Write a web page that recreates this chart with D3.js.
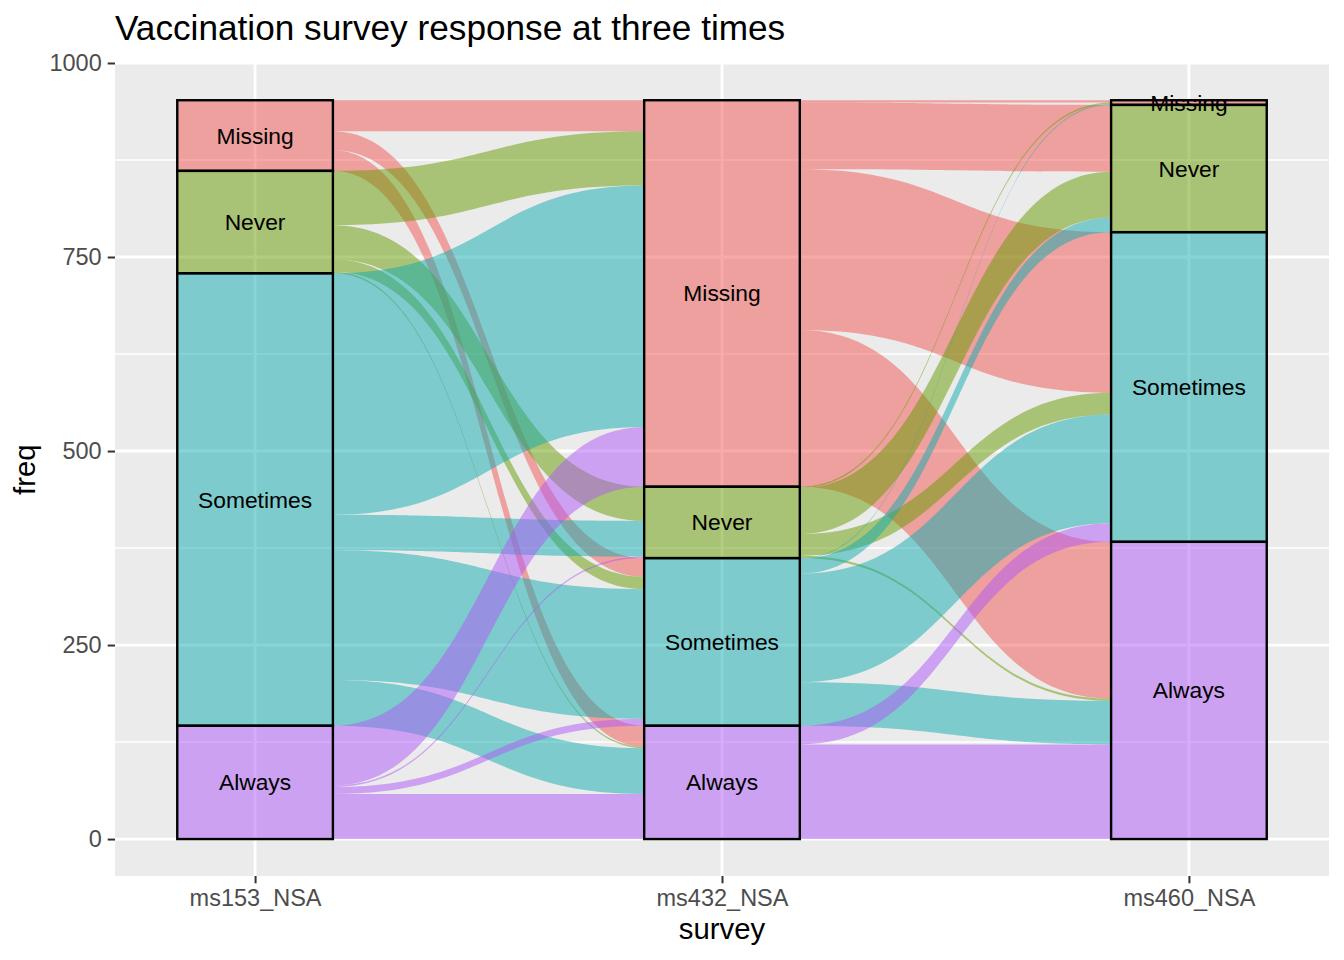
<!DOCTYPE html>
<html>
<head>
<meta charset="utf-8">
<script src="https://cdn.jsdelivr.net/npm/d3@7"></script>
<style>
  body { margin: 0; background: #fff; }
  text { font-family: "Liberation Sans", Arial, Helvetica, sans-serif; }
</style>
</head>
<body>
<svg id="chart" width="1344" height="960"></svg>
<script>
var surveys = ["ms153_NSA", "ms432_NSA", "ms460_NSA"];
var responses = ["Missing", "Never", "Sometimes", "Always"];
// base fills, drawn at half opacity over the grey panel
var colors = ["#EF554F", "#659B00", "#11ABAF", "#AF57F7"];

// respondents between two surveys: row = answer at the earlier survey, column = answer at the later one
var flows153to432 = [
  [40, 0, 24, 27],
  [70, 44, 16, 2],
  [311, 46, 167, 59],
  [77, 2, 9, 58]
];
var flows432to460 = [
  [3, 86, 207, 202],
  [2, 59, 28, 3],
  [1, 19, 140, 56],
  [0, 0, 24, 122]
];
var yTicks = [0, 250, 500, 750, 1000];
var yMinor = [125, 375, 625, 875];

var intervals = [flows153to432, flows432to460];

// stratum sizes at each survey
var sizes = [
  flows153to432.map(function(r) { return d3.sum(r); }),
  responses.map(function(_, j) { return d3.sum(flows153to432, function(r) { return r[j]; }); }),
  responses.map(function(_, j) { return d3.sum(flows432to460, function(r) { return r[j]; }); })
];
var total = d3.sum(sizes[0]);

var panel = {left: 115, right: 1329, top: 63.3, bottom: 876};

var svg = d3.select("#chart");

var x = d3.scalePoint()
  .domain(surveys)
  .range([panel.left, panel.right])
  .padding(0.3);
var y = d3.scaleLinear()
  .domain([-0.05 * total, 1.05 * total])
  .range([panel.bottom, panel.top]);
var boxW = x.step() / 3;

// stratum bottom (in freq) for response i at survey a, Always at the bottom
function stratumBottom(a, i) {
  var b = 0;
  for (var k = i + 1; k < responses.length; k++) b += sizes[a][k];
  return b;
}

// panel + grid
svg.append("rect")
  .attr("x", panel.left).attr("y", panel.top)
  .attr("width", panel.right - panel.left)
  .attr("height", panel.bottom - panel.top)
  .attr("fill", "#EBEBEB");

svg.selectAll(".minor").data(yMinor).enter().append("line")
  .attr("x1", panel.left).attr("x2", panel.right)
  .attr("y1", function(d) { return y(d); }).attr("y2", function(d) { return y(d); })
  .attr("stroke", "#fff").attr("stroke-width", 1.4);

svg.selectAll(".major").data(yTicks).enter().append("line")
  .attr("x1", panel.left).attr("x2", panel.right)
  .attr("y1", function(d) { return y(d); }).attr("y2", function(d) { return y(d); })
  .attr("stroke", "#fff").attr("stroke-width", 2.8);

svg.selectAll(".vgrid").data(surveys).enter().append("line")
  .attr("x1", function(d) { return x(d); }).attr("x2", function(d) { return x(d); })
  .attr("y1", panel.top).attr("y2", panel.bottom)
  .attr("stroke", "#fff").attr("stroke-width", 2.8);

// flows
var flowData = [];
intervals.forEach(function(m, a) {
  // running offsets from the stratum tops
  var leftOff = responses.map(function() { return 0; });
  var rightOff = responses.map(function() { return 0; });
  var segs = {};
  for (var i = 0; i < 4; i++) {
    for (var j = 0; j < 4; j++) {
      var v = m[i][j];
      var lt = stratumBottom(a, i) + sizes[a][i] - leftOff[i];
      leftOff[i] += v;
      segs[i + "-" + j] = {lt: lt, lb: lt - v};
    }
  }
  for (var j2 = 0; j2 < 4; j2++) {
    for (var i2 = 0; i2 < 4; i2++) {
      var v2 = m[i2][j2];
      var rt = stratumBottom(a + 1, j2) + sizes[a + 1][j2] - rightOff[j2];
      rightOff[j2] += v2;
      var s = segs[i2 + "-" + j2];
      s.rt = rt; s.rb = rt - v2;
    }
  }
  for (var i3 = 0; i3 < 4; i3++) {
    for (var j3 = 0; j3 < 4; j3++) {
      if (m[i3][j3] <= 0) continue;
      var sg = segs[i3 + "-" + j3];
      flowData.push({a: a, from: i3, to: j3, lt: sg.lt, lb: sg.lb, rt: sg.rt, rb: sg.rb});
    }
  }
});

function flowPath(d) {
  var x0 = x(surveys[d.a]) + boxW / 2,
      x1 = x(surveys[d.a + 1]) - boxW / 2,
      c0 = x0 + (x1 - x0) * 0.5,
      c1 = x1 - (x1 - x0) * 0.5;
  var p = d3.path();
  p.moveTo(x0, y(d.lt));
  p.bezierCurveTo(c0, y(d.lt), c1, y(d.rt), x1, y(d.rt));
  p.lineTo(x1, y(d.rb));
  p.bezierCurveTo(c1, y(d.rb), c0, y(d.lb), x0, y(d.lb));
  p.closePath();
  return p.toString();
}

svg.selectAll(".flow").data(flowData).enter().append("path")
  .attr("class", "flow")
  .attr("d", flowPath)
  .attr("fill", function(d) { return colors[d.from]; })
  .attr("fill-opacity", 0.5);

// strata
var strata = [];
surveys.forEach(function(s, a) {
  responses.forEach(function(r, i) {
    var b = stratumBottom(a, i);
    strata.push({survey: s, response: r, i: i, bottom: b, top: b + sizes[a][i]});
  });
});

svg.selectAll(".stratum").data(strata).enter().append("rect")
  .attr("x", function(d) { return x(d.survey) - boxW / 2; })
  .attr("y", function(d) { return y(d.top); })
  .attr("width", boxW)
  .attr("height", function(d) { return y(d.bottom) - y(d.top); })
  .attr("fill", function(d) { return colors[d.i]; })
  .attr("fill-opacity", 0.5)
  .attr("stroke", "#000")
  .attr("stroke-width", 2.4);

svg.selectAll(".slabel").data(strata).enter().append("text")
  .attr("x", function(d) { return x(d.survey); })
  .attr("y", function(d) { return y((d.top + d.bottom) / 2); })
  .attr("dy", "0.35em")
  .attr("text-anchor", "middle")
  .attr("font-size", 22.8)
  .attr("fill", "#000")
  .text(function(d) { return d.response; });

// axes
var yAxis = svg.append("g")
  .attr("transform", "translate(" + panel.left + ",0)")
  .call(d3.axisLeft(y).tickValues(yTicks).tickFormat(d3.format("d")).tickSize(7.3).tickPadding(6));
var xAxis = svg.append("g")
  .attr("transform", "translate(0," + panel.bottom + ")")
  .call(d3.axisBottom(x).tickSize(7.3).tickPadding(6));

[yAxis, xAxis].forEach(function(g) {
  g.select(".domain").remove();
  g.selectAll(".tick line").attr("stroke", "#333333").attr("stroke-width", 2);
  g.selectAll(".tick text")
    .attr("fill", "#4D4D4D")
    .attr("font-size", 23.5)
    .attr("font-family", "Liberation Sans, Arial, Helvetica, sans-serif");
});

svg.append("text")
  .attr("x", (panel.left + panel.right) / 2)
  .attr("y", 939)
  .attr("text-anchor", "middle")
  .attr("font-size", 29.3)
  .text("survey");

svg.append("text")
  .attr("transform", "translate(35," + ((panel.top + panel.bottom) / 2) + ") rotate(-90)")
  .attr("text-anchor", "middle")
  .attr("font-size", 29.3)
  .text("freq");

svg.append("text")
  .attr("x", panel.left)
  .attr("y", 39.5)
  .attr("font-size", 35.2)
  .text("Vaccination survey response at three times");
</script>
</body>
</html>
